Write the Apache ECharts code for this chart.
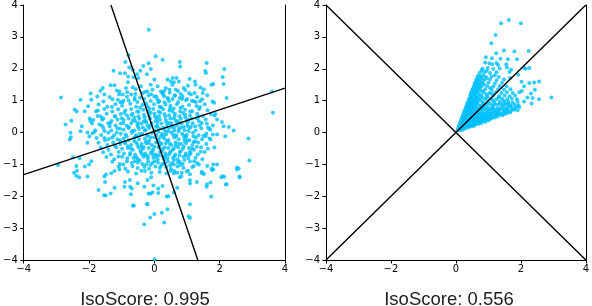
<!DOCTYPE html>
<html>
<head>
<meta charset="utf-8">
<script src="https://cdn.jsdelivr.net/npm/echarts@6/dist/echarts.min.js"></script>
<style>html,body{margin:0;padding:0;background:#fff}#c{width:592px;height:306px}</style>
</head>
<body>
<div id="c"></div>
<script>
// ---------- data ----------
const xTicks = [-4, -2, 0, 2, 4];
const yTicks = [-4, -3, -2, -1, 0, 1, 2, 3, 4];
const titles = ["IsoScore: 0.995", "IsoScore: 0.556"];

// left panel: isotropic cloud
const leftEdge = [
[-0.17,3.22],[-2.86,1.10],[-2.26,1.03],[-1.95,1.22],[-1.93,1.03],[-1.75,1.13],[-1.65,1.31],[-1.58,1.40],[-1.53,1.19],[-1.34,1.48],
[-1.22,1.48],[-1.25,1.94],[-1.05,1.86],[-0.90,1.86],[-0.89,2.21],[-0.77,2.04],[-0.79,2.42],[-0.66,1.97],[-0.80,1.76],[-0.64,1.73],
[-0.53,1.83],[-0.43,1.94],[-0.34,2.09],[-0.18,2.17],[-0.11,1.99],[-0.23,1.83],[-0.49,1.71],[0.0,1.66],[0.04,2.39],[0.25,2.28],
[-0.81,1.58],[-0.66,1.42],[-1.07,1.29],[-0.97,1.19],[-0.87,1.40],[-0.71,1.19],[-1.12,1.03],[-0.95,1.0],[-0.61,1.03],[-0.41,1.45],
[-0.36,1.24],[-0.21,1.29],[-0.11,1.5],[0.10,1.45],[0.20,1.29],[0.35,1.40],[0.40,1.66],[0.30,1.13],[0.0,1.13],[0.15,0.98],[0.45,0.98],
[0.78,2.21],[0.79,2.07],[1.60,2.18],[1.58,1.87],[1.56,1.93],[2.14,1.99],[2.09,1.74],[2.12,1.52],[0.56,1.71],[0.68,1.71],
[1.08,1.68],[1.24,1.60],[1.03,1.47],[1.26,1.50],[1.41,1.41],[1.51,1.36],[1.75,1.50],[1.80,1.52],[0.81,1.21],[1.06,1.24],
[1.23,1.24],[1.48,1.24],[1.62,1.17],[2.21,1.08],[1.0,1.05],[1.15,1.0],[1.27,0.96],[1.4,0.98],[1.78,0.97],[1.83,0.93],
[3.6,1.29],[0.55,1.5],[0.65,1.35],[0.75,1.6],[0.9,1.4],[0.47,1.25],[0.62,1.15],[0.85,1.05],[0.5,1.6],[0.6,1.58],
[-2.72,0.25],[-2.54,0.37],[-2.44,0.72],[-2.38,0.66],[-2.57,-0.01],[-2.56,-0.15],[-2.22,0.2],[-2.13,0.67],[-2.03,0.82],[-1.98,0.44],
[-1.96,0.36],[-2.05,0.0],[-1.99,-0.12],[-2.05,-0.32],[-1.83,0.02],[-1.73,0.69],[-1.68,0.25],[-1.64,0.5],[-1.60,0.4],[-1.53,-0.17],
[-1.53,0.05],[-1.37,0.2],[-2.29,-0.81],[-2.39,-1.05],[-2.13,-1.07],[-1.93,-0.9],[-2.59,-0.22],[-2.26,0.04],[-2.49,-0.78],[-2.95,-1.02],
[-2.0,-1.0],[-2.3,-1.4],[-2.37,-1.2],
[3.63,0.62],[2.88,-0.19],[2.91,-0.88],[2.53,-1.1],[2.43,0.06],[2.17,-0.12],[2.28,0.17],[2.07,0.33],[2.12,0.2],[1.92,0.41],
[1.92,-0.06],[1.84,0.53],[1.87,0.58],[1.64,0.16],[1.68,0.12],[1.84,-0.47],[1.57,-0.12],[1.72,-0.22],[1.21,-1.05],[1.62,-1.05],
[1.8,-1.0],[1.92,-1.0],[1.8,-1.15],[1.36,-1.0],[2.58,-1.13],[2.61,-1.41],[2.19,-1.63],[2.05,-1.4],[1.75,-1.14],[1.45,-1.23],
[-2.46,-1.26],[-2.39,-1.36],[-2.05,-1.38],[-1.71,-1.8],[-1.54,-1.97],[-1.49,-1.98],[-1.34,-1.91],[-1.53,-1.38],[-1.48,-1.32],[-1.32,-1.28],
[-1.22,-1.21],[-1.51,-1.55],[-1.22,-1.73],[-1.07,-1.16],[-0.9,-1.55],[-0.92,-1.7],[-0.75,-1.49],[-0.74,-1.7],[-0.72,-1.94],[-0.69,-1.76],
[-0.66,-2.3],[-0.51,-1.59],[-0.31,-1.7],[-0.23,-2.25],[-0.18,-1.91],[-0.12,-1.92],[-0.06,-1.88],[-0.21,-1.49],[-0.1,-1.4],[-0.03,-1.66],
[0.12,-1.76],[0.12,-1.9],[0.25,-1.68],[0.38,-2.01],[0.43,-2.0],[-0.31,-2.88],[-0.13,-2.67],[0.0,-2.56],[0.3,-2.82],[0.23,-2.52],
[0.40,-2.41],[0.01,-3.98],[-0.21,-2.24],[-0.63,-2.29],
[1.09,-2.25],[1.05,-2.63],[1.09,-2.68],[0.70,-1.73],[0.60,-1.88],[1.74,-2.01],[1.60,-1.7],[1.61,-1.62],[1.72,-1.57],[2.21,-1.62],
[2.61,-1.38],[2.09,-1.37],[2.14,-1.39],[1.09,-1.5],[1.09,-1.6],[1.3,-1.55],[1.46,-1.28],[1.52,-1.3],[1.77,-1.18],[2.53,-1.16],
[0.99,-1.22],[1.03,-1.2],[0.78,-1.4],[0.82,-1.37],[0.6,-1.28],[0.7,-1.26],[1.09,-1.31]
];
const leftCore = [
[-1.15,1.32],[-0.83,1.26],[-0.57,1.36],[-0.28,1.27],[-0.06,1.34],[0.24,1.25],[0.46,1.35],[0.72,1.3],[0.94,1.33],
[-1.37,1.11],[-1.08,1.19],[-0.84,1.12],[-0.58,1.21],[-0.44,1.09],[-0.18,1.16],[0.06,1.13],[0.27,1.2],[0.41,1.08],[0.63,1.17],[0.86,1.14],[1.12,1.19],[1.31,1.11],
[-1.56,0.97],[-1.28,1.04],[-1.04,0.95],[-0.79,1.01],[-0.52,0.96],[-0.31,1.05],[-0.11,0.99],[0.09,1.04],[0.31,0.95],[0.56,1.05],[0.73,0.96],[0.97,1.01],[1.21,0.98],[1.46,1.04],
[-1.71,0.88],[-1.44,0.81],[-1.19,0.89],[-0.99,0.84],[-0.74,0.9],[-0.56,0.81],[-0.37,0.86],[-0.21,0.82],[-0.01,0.89],[0.16,0.81],[0.34,0.88],[0.49,0.84],[0.69,0.89],[0.86,0.81],[1.06,0.86],[1.29,0.83],[1.54,0.89],
[-1.79,0.67],[-1.53,0.74],[-1.29,0.66],[-1.11,0.73],[-0.89,0.69],[-0.71,0.74],[-0.53,0.66],[-0.34,0.71],[-0.19,0.67],[-0.03,0.74],[0.13,0.66],[0.27,0.73],[0.46,0.69],[0.59,0.75],[0.79,0.66],[0.94,0.71],[1.16,0.67],[1.37,0.74],[1.63,0.7],
[-1.74,0.52],[-1.46,0.59],[-1.21,0.51],[-1.03,0.58],[-0.84,0.54],[-0.67,0.59],[-0.49,0.51],[-0.32,0.56],[-0.16,0.54],[0.01,0.59],[0.14,0.51],[0.31,0.58],[0.45,0.54],[0.63,0.59],[0.77,0.51],[0.94,0.56],[1.09,0.54],[1.31,0.59],[1.49,0.52],[1.73,0.58],
[-1.87,0.39],[-1.56,0.44],[-1.31,0.36],[-1.13,0.41],[-0.94,0.39],[-0.79,0.44],[-0.59,0.36],[-0.46,0.43],[-0.27,0.37],[-0.13,0.44],[0.04,0.36],[0.17,0.41],[0.35,0.39],[0.49,0.44],[0.66,0.36],[0.81,0.43],[0.99,0.37],[1.14,0.44],[1.36,0.36],[1.57,0.41],
[-1.91,0.28],[-1.61,0.21],[-1.41,0.29],[-1.19,0.22],[-1.03,0.28],[-0.85,0.21],[-0.71,0.29],[-0.52,0.24],[-0.39,0.28],[-0.21,0.21],[-0.08,0.29],[0.09,0.22],[0.22,0.28],[0.39,0.21],[0.52,0.29],[0.69,0.22],[0.83,0.28],[1.01,0.21],[1.17,0.29],[1.39,0.22],[1.61,0.28],[1.79,0.22],
[-1.81,0.07],[-1.56,0.14],[-1.32,0.06],[-1.13,0.13],[-0.94,0.09],[-0.79,0.14],[-0.61,0.06],[-0.47,0.11],[-0.29,0.07],[-0.16,0.14],[0.01,0.06],[0.13,0.13],[0.31,0.09],[0.44,0.14],[0.61,0.06],[0.75,0.11],[0.93,0.07],[1.07,0.14],[1.26,0.06],[1.44,0.13],[1.71,0.09],
[-1.89,-0.02],[-1.63,-0.08],[-1.41,-0.01],[-1.23,-0.09],[-1.03,-0.04],[-0.88,-0.06],[-0.69,-0.01],[-0.56,-0.09],[-0.37,-0.04],[-0.23,-0.08],[-0.07,-0.01],[0.06,-0.09],[0.23,-0.04],[0.36,-0.06],[0.53,-0.01],[0.67,-0.09],[0.85,-0.04],[0.99,-0.08],[1.18,-0.01],[1.35,-0.09],[1.59,-0.04],[1.79,-0.06],
[-1.77,-0.17],[-1.51,-0.24],[-1.29,-0.16],[-1.13,-0.21],[-0.94,-0.19],[-0.79,-0.24],[-0.61,-0.16],[-0.47,-0.21],[-0.29,-0.19],[-0.16,-0.24],[0.01,-0.16],[0.13,-0.21],[0.3,-0.19],[0.43,-0.24],[0.61,-0.16],[0.74,-0.21],[0.92,-0.19],[1.07,-0.24],[1.27,-0.16],[1.46,-0.21],[1.69,-0.19],
[-1.71,-0.32],[-1.44,-0.39],[-1.26,-0.31],[-1.04,-0.36],[-0.89,-0.34],[-0.71,-0.39],[-0.56,-0.31],[-0.39,-0.36],[-0.25,-0.34],[-0.08,-0.39],[0.05,-0.31],[0.22,-0.36],[0.35,-0.34],[0.52,-0.39],[0.65,-0.31],[0.83,-0.36],[0.97,-0.34],[1.16,-0.39],[1.34,-0.31],[1.59,-0.36],
[-1.64,-0.47],[-1.41,-0.54],[-1.17,-0.46],[-0.99,-0.51],[-0.81,-0.49],[-0.66,-0.54],[-0.49,-0.46],[-0.35,-0.51],[-0.17,-0.49],[-0.04,-0.54],[0.13,-0.46],[0.26,-0.51],[0.43,-0.49],[0.56,-0.54],[0.73,-0.46],[0.87,-0.51],[1.06,-0.49],[1.21,-0.54],[1.43,-0.46],[1.64,-0.51],
[-1.57,-0.62],[-1.33,-0.69],[-1.09,-0.61],[-0.93,-0.66],[-0.74,-0.64],[-0.59,-0.69],[-0.41,-0.61],[-0.28,-0.66],[-0.11,-0.64],[0.04,-0.69],[0.17,-0.61],[0.34,-0.66],[0.47,-0.64],[0.64,-0.69],[0.78,-0.61],[0.96,-0.66],[1.11,-0.64],[1.33,-0.69],[1.54,-0.61],
[-1.47,-0.77],[-1.23,-0.84],[-0.99,-0.76],[-0.83,-0.81],[-0.64,-0.79],[-0.51,-0.84],[-0.33,-0.76],[-0.2,-0.81],[-0.03,-0.79],[0.1,-0.84],[0.27,-0.76],[0.4,-0.81],[0.57,-0.79],[0.71,-0.84],[0.89,-0.76],[1.04,-0.81],[1.26,-0.79],[1.47,-0.84],
[-1.29,-0.92],[-1.06,-0.99],[-0.84,-0.91],[-0.69,-0.96],[-0.51,-0.94],[-0.37,-0.99],[-0.19,-0.91],[-0.06,-0.96],[0.11,-0.94],[0.24,-0.99],[0.41,-0.91],[0.54,-0.96],[0.72,-0.94],[0.87,-0.99],[1.09,-0.91],[1.31,-0.96],
[-1.09,-1.07],[-0.89,-1.14],[-0.67,-1.06],[-0.51,-1.11],[-0.31,-1.08],[-0.16,-1.14],[0.03,-1.07],[0.17,-1.11],[0.36,-1.08],[0.51,-1.14],[0.71,-1.07],[0.89,-1.11],[1.16,-1.08],
[-0.81,-1.22],[-0.56,-1.29],[-0.29,-1.21],[-0.09,-1.26],[0.16,-1.24],[0.37,-1.29],[0.61,-1.21],[0.84,-1.26],
[-0.92,0.62],[-0.61,0.47],[-0.44,0.78],[-0.25,0.31],[-0.11,0.62],[0.07,0.45],[0.21,0.79],[0.37,0.31],[0.55,0.66],[0.71,0.35],
[0.88,0.61],[1.02,0.31],[-0.78,0.17],[-0.57,-0.12],[-0.35,0.16],[-0.19,-0.11],[0.05,0.19],[0.19,-0.13],[0.35,0.02],[0.53,0.18],
[0.66,-0.12],[0.81,0.15],[0.97,-0.14],[1.12,0.18],[-0.81,-0.43],[-0.62,-0.27],[-0.43,-0.57],[-0.26,-0.28],[-0.07,-0.59],[0.1,-0.28],
[0.24,-0.59],[0.39,-0.26],[0.5,-0.6],[0.65,-0.41],[0.8,-0.59],[0.93,-0.27],[1.09,-0.6],[1.25,-0.28],[-0.6,-0.9],[-0.28,-0.72],
[-0.12,-1.02],[0.05,-0.75],[0.2,-1.05],[0.33,-0.74],[0.48,-1.03],[0.62,-0.74],[0.8,-1.02],[0.97,-0.72],[-1.2,0.5],[-1.05,0.12],
[-1.2,-0.42],[-0.98,0.95],[-0.6,1.08],[-0.25,0.92],[0.12,0.95],[0.42,1.06],[0.78,1.08],[1.35,0.5],[1.42,-0.6],[1.22,-0.9],
[-0.95,-1.0],[0.15,-0.42],[-0.4,-0.45],[0.6,0.44],[-0.5,0.3],
[-0.7,0.55],[-0.48,0.65],[-0.3,0.48],[-0.15,0.75],[0.02,0.5],[0.18,0.62],[0.33,0.5],[0.48,0.75],[0.62,0.52],[0.8,0.77],
[0.95,0.48],[1.1,0.66],[-0.95,0.3],[-0.66,0.38],[-0.5,0.18],[-0.32,0.35],[-0.12,0.22],[0.1,0.33],[0.27,0.15],[0.45,0.3],
[0.6,0.16],[0.77,0.3],[0.9,0.17],[1.05,0.4],[-0.85,-0.12],[-0.68,0.05],[-0.45,-0.05],[-0.27,0.07],[-0.1,-0.15],[0.12,0.02],
[0.28,-0.1],[0.44,0.04],[0.58,-0.08],[0.74,0.04],[0.9,-0.1],[1.05,0.05],[1.2,-0.12],[-0.9,-0.3],[-0.72,-0.5],[-0.52,-0.38],
[-0.33,-0.46],[-0.17,-0.33],[0.0,-0.45],[0.18,-0.33],[0.32,-0.47],[0.47,-0.35],[0.6,-0.5],[0.75,-0.35],[0.9,-0.45],[1.02,-0.25],
[1.15,-0.5],[-0.75,-0.7],[-0.55,-0.78],[-0.38,-0.68],[-0.2,-0.74],[-0.05,-0.68],[0.14,-0.72],[0.3,-0.85],[0.44,-0.7],[0.6,-0.86],
[0.77,-0.72],[0.92,-0.86],[1.08,-0.7],[-0.45,-0.88],[-0.25,-1.0],[0.0,-0.9],[0.32,-0.98],[0.6,-1.0],[0.78,-0.92],[-1.35,0.3],
[-1.4,-0.2],[-1.3,0.8],[-1.1,-0.75],[1.45,0.3],[1.5,-0.1],[1.3,-0.45],[1.4,0.8],[-0.1,1.2],[0.3,1.3],[-0.4,-1.2],
[0.5,-1.2],[-1.0,0.45],[-1.15,0.0],[-1.05,-0.25],[1.25,0.2],[1.3,0.45],[1.2,-0.3]
];

// right panel: anisotropic cone
const rightCore = [
[0.05,0.07],[0.1,0.08],[0.15,0.09],[0.2,0.09],
[0.07,0.14],[0.14,0.16],[0.22,0.15],[0.3,0.14],[0.38,0.16],
[0.09,0.22],[0.16,0.23],[0.24,0.21],[0.32,0.23],[0.4,0.21],[0.48,0.23],[0.57,0.22],
[0.12,0.3],[0.19,0.31],[0.27,0.29],[0.35,0.31],[0.43,0.29],[0.51,0.31],[0.6,0.29],[0.69,0.31],[0.78,0.3],
[0.15,0.38],[0.22,0.39],[0.3,0.37],[0.38,0.39],[0.46,0.37],[0.55,0.39],[0.64,0.37],[0.73,0.39],[0.83,0.37],[0.93,0.39],[1.0,0.38],
[0.18,0.46],[0.26,0.47],[0.34,0.45],[0.43,0.47],[0.52,0.45],[0.61,0.47],[0.7,0.45],[0.8,0.47],[0.9,0.45],[1.0,0.47],[1.1,0.45],[1.2,0.47],
[0.21,0.54],[0.29,0.55],[0.38,0.53],[0.47,0.55],[0.57,0.53],[0.67,0.55],[0.77,0.53],[0.88,0.55],[0.99,0.53],[1.1,0.55],[1.22,0.53],[1.33,0.55],[1.43,0.54],
[0.24,0.62],[0.32,0.63],[0.41,0.61],[0.5,0.63],[0.6,0.61],[0.72,0.63],[0.85,0.61],[0.97,0.63],[1.1,0.61],[1.22,0.63],[1.35,0.61],[1.47,0.63],[1.58,0.61],[1.67,0.63],
[0.27,0.7],[0.35,0.71],[0.44,0.69],[0.54,0.71],[0.66,0.69],[0.8,0.71],[0.95,0.69],[1.08,0.71],[1.2,0.69],[1.33,0.71],[1.46,0.69],[1.58,0.71],[1.7,0.69],[1.8,0.71],[1.9,0.7],
[0.3,0.78],[0.38,0.79],[0.47,0.77],[0.58,0.79],[0.72,0.77],[0.88,0.79],[1.02,0.77],[1.15,0.79],[1.3,0.77],[1.45,0.79],[1.58,0.77],[1.7,0.79],[1.82,0.77],[1.95,0.79],
[0.33,0.86],[0.41,0.87],[0.5,0.85],[0.62,0.87],[0.78,0.85],[0.95,0.87],[1.12,0.85],[1.28,0.87],[1.42,0.85],[1.55,0.87],[1.68,0.85],[1.8,0.87],[1.93,0.85],
[0.36,0.95],[0.44,0.96],[0.54,0.94],[0.67,0.96],[0.83,0.94],[1.0,0.96],[1.18,0.94],[1.35,0.96],[1.5,0.94],[1.62,0.96],[1.75,0.94],[1.9,0.96],
[0.4,1.05],[0.48,1.06],[0.58,1.04],[0.72,1.06],[0.9,1.04],[1.08,1.06],[1.25,1.04],[1.42,1.06],[1.58,1.04],[1.72,1.06],[1.88,1.04],
[0.44,1.15],[0.52,1.16],[0.63,1.14],[0.78,1.16],[0.97,1.14],[1.15,1.16],[1.33,1.14],[1.5,1.16],[1.65,1.14],[1.82,1.16],
[0.47,1.25],[0.56,1.26],[0.68,1.24],[0.85,1.26],[1.03,1.24],[1.22,1.26],[1.4,1.24],[1.57,1.26],[1.75,1.24],[1.95,1.26],
[0.51,1.35],[0.6,1.36],[0.73,1.34],[0.9,1.36],[1.1,1.34],[1.3,1.36],[1.48,1.34],[1.68,1.36],
[0.55,1.45],[0.64,1.46],[0.78,1.44],[0.96,1.46],[1.15,1.44],[1.35,1.46],[1.56,1.44],
[0.58,1.55],[0.68,1.56],[0.82,1.54],[1.0,1.56],[1.2,1.54],[1.42,1.56],
[0.62,1.65],[0.72,1.66],[0.87,1.64],[1.05,1.66],[1.25,1.64],[1.48,1.66],
[0.66,1.75],[0.77,1.76],[0.92,1.74],[1.1,1.76],[1.32,1.74],
[0.74,1.88],[0.88,1.89],[1.05,1.87],[1.25,1.89],
[0.82,2.0],[0.98,2.02],[1.15,1.99],[1.35,2.01],
[0.08,0.11],[0.12,0.12],[0.18,0.12],[0.25,0.12],[0.12,0.19],[0.2,0.19],[0.28,0.19],[0.36,0.2],[0.44,0.19],[0.52,0.2],
[0.16,0.26],[0.23,0.27],[0.31,0.26],[0.4,0.27],[0.5,0.26],[0.6,0.26],[0.7,0.27],[0.2,0.34],[0.27,0.35],[0.35,0.34],
[0.45,0.35],[0.56,0.34],[0.68,0.35],[0.8,0.34],[0.9,0.33],[0.25,0.42],[0.34,0.42],[0.45,0.42],[0.58,0.42],[0.73,0.42],
[0.88,0.43],[1.05,0.42],[0.26,0.5],[0.36,0.5],[0.5,0.5],[0.65,0.51],[0.85,0.5],[1.05,0.51],[1.28,0.5],[0.3,0.58],
[0.42,0.58],[0.56,0.58],[0.78,0.58],[1.0,0.59],[1.25,0.58],[1.5,0.58],[0.34,0.66],[0.48,0.66],[0.62,0.66],[1.3,0.66],
[1.6,0.66],[0.37,0.74],[0.52,0.74],[1.52,0.74],[1.75,0.74],[0.42,0.82],[0.55,0.82],[1.65,0.82],[1.88,0.82],[0.45,0.9],
[0.6,0.9],[0.48,1.0],[0.62,1.0],[0.5,1.1],[0.68,1.1],[0.55,1.2],[0.62,1.3],[0.66,1.4],[0.7,1.5],[0.75,1.6],[0.8,1.7],
[0.11,0.17],[0.17,0.2],[0.22,0.24],[0.27,0.23],[0.33,0.27],[0.38,0.25],[0.42,0.32],[0.47,0.28],[0.53,0.33],[0.58,0.3],
[0.63,0.33],[0.74,0.33],[0.2,0.29],[0.24,0.33],[0.3,0.4],[0.37,0.44],[0.41,0.4],[0.49,0.41],[0.53,0.47],[0.62,0.43],
[0.67,0.49],[0.76,0.44],[0.84,0.41],[0.95,0.43],[0.23,0.46],[0.28,0.52],[0.33,0.57],[0.4,0.55],[0.45,0.6],[0.52,0.58],
[0.57,0.64],[0.64,0.59],[0.7,0.6],[0.76,0.65],[0.82,0.57],[0.91,0.6],[0.95,0.5],[1.15,0.5],[1.07,0.58],[1.17,0.63],
[1.28,0.6],[1.4,0.57],[0.29,0.66],[0.31,0.74],[0.41,0.72],[0.47,0.79],[0.53,0.68],[0.6,0.76],[0.69,0.74],[0.76,0.8],
[0.85,0.73],[0.92,0.78],[1.0,0.7],[1.12,0.74],[1.25,0.73],[1.38,0.75],[1.5,0.66],[0.34,0.82],[0.39,0.9],[0.46,0.86],
[0.52,0.93],[0.57,0.86],[0.65,0.91],[0.71,0.85],[0.86,0.91],[1.05,0.9],[1.2,0.89],[1.36,0.91],[1.48,0.88],[1.62,0.9],
[0.41,0.99],[0.45,1.08],[0.53,1.02],[0.6,1.09],[0.66,1.02],[0.77,1.0],[0.82,1.1],[0.95,1.09],[1.14,1.01],[1.32,1.1],
[1.47,1.0],[0.46,1.2],[0.5,1.3],[0.58,1.2],[0.64,1.28],[0.72,1.2],[0.8,1.3],[0.93,1.2],[1.1,1.22],[0.54,1.4],
[0.58,1.5],[0.61,1.42],[0.7,1.38],[0.72,1.46],[0.86,1.5],[1.05,1.4],[0.63,1.58],[0.78,1.56],[0.66,1.68],[0.95,1.7],
[0.7,1.8],[0.84,1.8],[1.2,1.8],[0.8,1.95],[0.95,1.94]
];
const rightEdge = [
[1.39,3.43],[1.63,3.53],[2.0,3.43],[1.22,3.06],[1.09,2.8],[1.48,2.57],[1.80,2.54],[2.24,2.56],[1.24,2.49],[0.92,2.36],
[1.11,2.33],[1.37,2.31],[1.6,2.3],[1.88,2.3],[0.9,2.2],[1.03,2.17],[1.12,2.14],[1.25,2.18],[1.3,2.12],[1.57,2.04],
[1.55,2.14],[2.26,2.02],[2.1,2.02],[2.15,2.0],[1.7,1.97],[1.65,1.9],[1.92,1.81],[1.67,1.71],[2.56,1.60],[2.41,1.57],
[2.26,1.55],[2.02,1.59],[2.03,1.3],[2.43,1.34],[2.31,1.22],[2.56,1.04],[2.36,1.08],[2.94,1.10],[2.33,0.91],[2.1,0.97],
[2.2,1.1],[2.1,1.45]
];

// principal directions
const leftLineA = [[-4, -1.32], [4, 1.39]];
const leftLineB = [[-1.33, 4], [1.33, -4]];
const rightLineA = [[-4, 4], [4, -4]];
const rightLineB = [[-4, -4], [4, 4]];

// ---------- chart ----------
const chart = echarts.init(document.getElementById('c'), null, {renderer: 'canvas'});
const fmt = v => String(v).replace('-', '\u2212');
const lab = {color: '#000', fontSize: 10, fontFamily: 'DejaVu Sans', formatter: fmt};
const grids = [
  {left: 22, top: 5, width: 263, height: 255},
  {left: 326, top: 5, width: 262, height: 255}
];
const xAxes = [], yAxes = [];
grids.forEach((g, i) => {
  xAxes.push({type: 'value', gridIndex: i, min: xTicks[0], max: xTicks[xTicks.length-1], interval: 2,
    axisLine: {show: true, onZero: false, lineStyle: {color: '#000', width: 1}},
    axisTick: {show: true, length: 3.5, lineStyle: {color: '#000'}},
    axisLabel: Object.assign({margin: 4}, lab), splitLine: {show: false}});
  yAxes.push({type: 'value', gridIndex: i, min: yTicks[0], max: yTicks[yTicks.length-1], interval: 1,
    axisLine: {show: true, onZero: false, lineStyle: {color: '#000', width: 1}},
    axisTick: {show: true, length: 3.5, lineStyle: {color: '#000'}},
    axisLabel: Object.assign({margin: 6}, lab), splitLine: {show: false}});
  yAxes.push({type: 'value', gridIndex: i, position: 'right', min: -4, max: 4,
    axisLine: {show: true, onZero: false, lineStyle: {color: '#000', width: 1}},
    axisTick: {show: false}, axisLabel: {show: false}, splitLine: {show: false}});
});
const sc = (data, i) => ({type: 'scatter', xAxisIndex: i, yAxisIndex: i*2, data: data, symbolSize: 4,
  itemStyle: {color: '#00BFFF'}, silent: true, z: 2});
const ln = (data, i) => ({type: 'line', xAxisIndex: i, yAxisIndex: i*2, data: data, symbol: 'none',
  lineStyle: {color: '#000', width: 1.4}, silent: true, z: 5});
chart.setOption({
  animation: false,
  grid: grids,
  xAxis: xAxes,
  yAxis: yAxes,
  series: [
    sc(leftEdge.concat(leftCore), 0), ln(leftLineA, 0), ln(leftLineB, 0),
    sc(rightCore.concat(rightEdge), 1), ln(rightLineA, 1), ln(rightLineB, 1)
  ],
  graphic: [
    {type: 'text', x: 145, y: 300, style: {text: titles[0], textAlign: 'center', textVerticalAlign: 'middle',
      font: '18.5px "Liberation Sans"', fill: '#222'}},
    {type: 'text', x: 449, y: 300, style: {text: titles[1], textAlign: 'center', textVerticalAlign: 'middle',
      font: '18.5px "Liberation Sans"', fill: '#222'}}
  ]
});
</script>
</body>
</html>
